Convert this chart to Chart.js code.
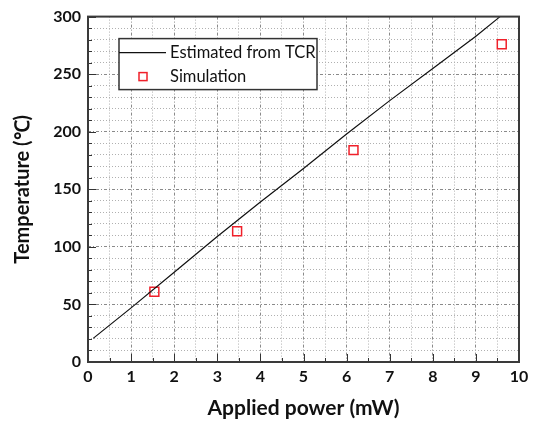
<!DOCTYPE html>
<html>
<head>
<meta charset="utf-8">
<script src="https://cdn.jsdelivr.net/npm/chart.js@4.4.1/dist/chart.umd.min.js"></script>
<style>
  html, body { margin: 0; padding: 0; background: #fff; }
  canvas { display: block; }
</style>
</head>
<body>
<canvas id="chart" width="539" height="423"></canvas>
<script>
// data
const powerLine = [0.12, 1, 2, 3, 4, 5, 6, 7, 8, 9, 9.56];
const tempLine  = [20.5, 47, 78, 109, 139, 168, 198, 227, 255, 283, 300];
const powerSim  = [1.54, 3.46, 6.16, 9.6];
const tempSim   = [61, 113.5, 184, 276];

const labelLine = 'Estimated from TCR';
const labelSim  = 'Simulation';
const xTitle = 'Applied power (mW)';
const yTitle = 'Temperature (\u2103)';

const FONT = 'Lato, "Open Sans", sans-serif';
const INK = '#111';

function isMajor(scale, v) {
  return scale.axis === 'x' ? Math.abs(v - Math.round(v)) < 1e-6 : Math.round(v) % 50 === 0;
}

// frame box + inward tick marks + legend box
const framePlugin = {
  id: 'frame',
  afterDatasetsDraw(chart) {
    const { ctx, chartArea: a, scales } = chart;
    ctx.save();
    ctx.strokeStyle = '#333';
    ctx.lineWidth = 1;
    ctx.beginPath();
    scales.x.ticks.forEach(t => {
      const px = Math.round(scales.x.getPixelForValue(t.value)) + 0.5;
      const len = isMajor(scales.x, t.value) ? 8 : 4;
      ctx.moveTo(px, a.bottom);
      ctx.lineTo(px, a.bottom - len);
    });
    scales.y.ticks.forEach(t => {
      const py = Math.round(scales.y.getPixelForValue(t.value)) + 0.5;
      const len = isMajor(scales.y, t.value) ? 8 : 4;
      ctx.moveTo(a.left, py);
      ctx.lineTo(a.left + len, py);
    });
    ctx.stroke();
    ctx.lineWidth = 2;
    ctx.strokeStyle = '#3a3a3a';
    ctx.strokeRect(a.left, a.top, a.right - a.left, a.bottom - a.top);
    ctx.restore();
  },
  afterDraw(chart) {
    const { ctx, chartArea: a } = chart;
    const ds = chart.data.datasets;
    const x0 = a.left + 31, y0 = a.top + 22, w = 198, h = 51;
    ctx.save();
    ctx.fillStyle = '#fff';
    ctx.fillRect(x0, y0, w, h);
    ctx.strokeStyle = '#333';
    ctx.lineWidth = 1.5;
    ctx.strokeRect(x0, y0, w, h);
    const r1 = y0 + 14, r2 = y0 + 38;
    ctx.strokeStyle = ds[0].borderColor;
    ctx.lineWidth = 1.2;
    ctx.beginPath();
    ctx.moveTo(x0, r1);
    ctx.lineTo(x0 + 47, r1);
    ctx.stroke();
    ctx.strokeStyle = ds[1].borderColor;
    ctx.lineWidth = 1.5;
    ctx.strokeRect(x0 + 20, r2 - 4, 8, 8);
    ctx.fillStyle = INK;
    ctx.font = '16.5px ' + FONT;
    ctx.textBaseline = 'middle';
    ctx.fillText(ds[0].label, x0 + 51, r1);
    ctx.fillText(ds[1].label, x0 + 51, r2);
    ctx.restore();
  }
};

new Chart(document.getElementById('chart'), {
  type: 'scatter',
  data: {
    datasets: [
      {
        label: labelLine,
        data: powerLine.map((p, i) => ({ x: p, y: tempLine[i] })),
        showLine: true,
        borderColor: '#111',
        borderWidth: 1.2,
        pointRadius: 0,
        tension: 0
      },
      {
        label: labelSim,
        data: powerSim.map((p, i) => ({ x: p, y: tempSim[i] })),
        showLine: false,
        pointStyle: 'rect',
        pointRadius: 6.3,
        borderColor: '#f0202a',
        backgroundColor: 'rgba(0,0,0,0)',
        borderWidth: 1.5
      }
    ]
  },
  options: {
    responsive: false,
    animation: false,
    layout: { padding: { top: 16, right: 20, left: 0, bottom: 0 } },
    plugins: {
      legend: { display: false },
      tooltip: { enabled: false }
    },
    scales: {
      x: {
        type: 'linear',
        min: 0, max: 10,
        afterFit: s => { s.height = 61; },
        ticks: {
          stepSize: 0.5,
          padding: 5,
          color: INK,
          autoSkip: false,
          maxRotation: 0,
          font: { family: FONT, size: 16, weight: 'bold' },
          callback: v => (Math.abs(v - Math.round(v)) < 1e-6 ? String(Math.round(v)) : '')
        },
        grid: {
          drawTicks: false,
          lineWidth: 1,
          color: c => (c.tick && isMajor({ axis: 'x' }, c.tick.value) ? '#8a8a8a' : '#b0b0b0')
        },
        border: {
          display: false,
          dash: c => (c.tick && isMajor({ axis: 'x' }, c.tick.value) ? [3, 2, 1, 2] : [1, 2])
        },
        title: {
          display: true,
          text: xTitle,
          color: INK,
          font: { family: FONT, size: 21, weight: 'bold' },
          padding: { top: 0, bottom: 2 }
        }
      },
      y: {
        type: 'linear',
        min: 0, max: 300,
        afterFit: s => { s.width = 88; },
        ticks: {
          stepSize: 10,
          padding: 7,
          color: INK,
          autoSkip: false,
          font: { family: FONT, size: 16, weight: 'bold' },
          callback: v => (Math.round(v) % 50 === 0 ? String(Math.round(v)) : '')
        },
        grid: {
          drawTicks: false,
          lineWidth: 1,
          color: c => (c.tick && isMajor({ axis: 'y' }, c.tick.value) ? '#8a8a8a' : '#b0b0b0')
        },
        border: {
          display: false,
          dash: c => (c.tick && isMajor({ axis: 'y' }, c.tick.value) ? [3, 2, 1, 2] : [1, 2])
        },
        title: {
          display: true,
          text: yTitle,
          color: INK,
          font: { family: FONT, size: 20, weight: 'bold' },
          padding: { top: 11, bottom: 0 }
        }
      }
    }
  },
  plugins: [framePlugin]
});
</script>
</body>
</html>
